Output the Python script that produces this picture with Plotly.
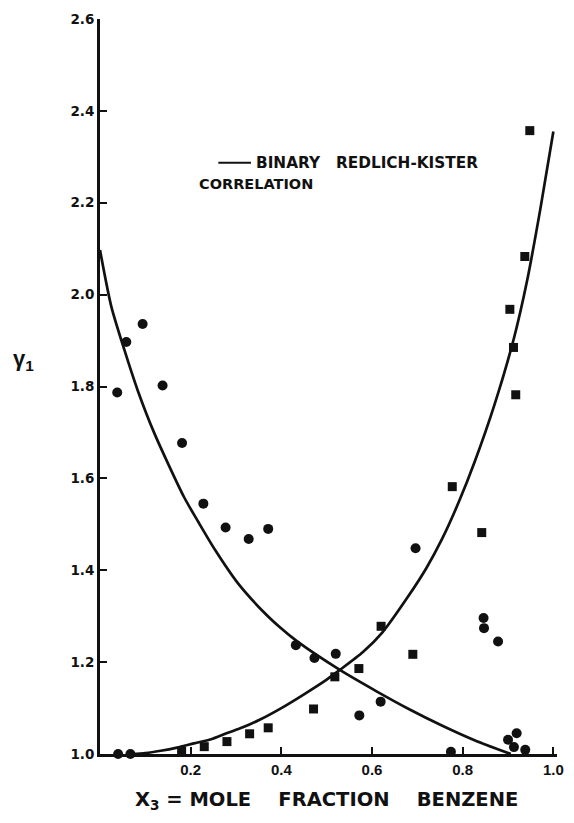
import plotly.graph_objects as go

# Measured activity coefficients (circles: falling branch, squares: rising branch)
circle_x = [0.040, 0.067, 0.038, 0.058, 0.094, 0.138, 0.181, 0.228, 0.277, 0.328,
            0.371, 0.432, 0.473, 0.520, 0.572, 0.619, 0.696, 0.774, 0.846, 0.847,
            0.878, 0.900, 0.919, 0.913, 0.938]
circle_y = [1.000, 1.000, 1.787, 1.897, 1.936, 1.802, 1.677, 1.545, 1.493, 1.468,
            1.490, 1.237, 1.209, 1.218, 1.084, 1.114, 1.448, 1.005, 1.296, 1.274,
            1.245, 1.031, 1.045, 1.015, 1.009]

square_x = [0.180, 0.230, 0.280, 0.330, 0.371, 0.471, 0.518, 0.571, 0.620, 0.690,
            0.777, 0.842, 0.917, 0.912, 0.904, 0.937, 0.948]
square_y = [1.006, 1.016, 1.027, 1.044, 1.057, 1.098, 1.168, 1.186, 1.278, 1.217,
            1.582, 1.482, 1.782, 1.885, 1.968, 2.083, 2.357]

# Binary Redlich-Kister correlation curves
fall_x = [0.000, 0.025, 0.054, 0.083, 0.120, 0.185, 0.217, 0.254, 0.304, 0.362,
          0.400, 0.435, 0.529, 0.609, 0.681, 0.754, 0.826, 0.906]
fall_y = [2.097, 1.974, 1.879, 1.792, 1.698, 1.560, 1.505, 1.444, 1.372, 1.308,
          1.273, 1.245, 1.183, 1.137, 1.098, 1.062, 1.030, 1.000]

rise_x = [0.070, 0.100, 0.134, 0.170, 0.207, 0.245, 0.279, 0.315, 0.351, 0.400,
          0.450, 0.500, 0.529, 0.580, 0.623, 0.681, 0.720, 0.754, 0.792, 0.826,
          0.870, 0.913, 0.942, 0.971, 1.000]
rise_y = [1.000, 1.002, 1.007, 1.014, 1.023, 1.032, 1.045, 1.058, 1.074, 1.100,
          1.130, 1.162, 1.183, 1.222, 1.265, 1.345, 1.405, 1.467, 1.550, 1.635,
          1.760, 1.905, 2.030, 2.185, 2.355]

x_ticks = [0.2, 0.4, 0.6, 0.8, 1.0]
x_tick_text = ["0.2", "0.4", "0.6", "0.8", "1.0"]
y_ticks = [1.0, 1.2, 1.4, 1.6, 1.8, 2.0, 2.2, 2.4, 2.6]
y_tick_text = ["1.0", "1.2", "1.4", "1.6", "1.8", "2.0", "2.2", "2.4", "2.6"]

SANS = "Liberation Sans"
WIDE = "DejaVu Sans"
INK = "#111111"


def gap(n):
    return "&nbsp;" * n


fig = go.Figure()

for cx, cy in ((fall_x, fall_y), (rise_x, rise_y)):
    fig.add_trace(go.Scatter(
        x=cx, y=cy, mode="lines",
        line=dict(color=INK, width=2.7, shape="spline", smoothing=0.7),
        hoverinfo="skip", showlegend=False,
    ))

fig.add_trace(go.Scatter(
    x=circle_x, y=circle_y, mode="markers",
    marker=dict(symbol="circle", size=10, color=INK, line=dict(width=0)),
    cliponaxis=False, showlegend=False,
))
fig.add_trace(go.Scatter(
    x=square_x, y=square_y, mode="markers",
    marker=dict(symbol="square", size=9, color=INK, line=dict(width=0)),
    cliponaxis=False, showlegend=False,
))

# Legend key: short line sample followed by its caption
fig.add_shape(type="line", xref="x", yref="y",
              x0=0.261, x1=0.333, y0=2.287, y1=2.287,
              line=dict(color=INK, width=2))
fig.add_annotation(x=0.339, y=2.287, xref="x", yref="y",
                   text=f"<b>BINARY{gap(3)}REDLICH-KISTER</b>",
                   showarrow=False, xanchor="left", yanchor="middle",
                   font=dict(family=WIDE, size=15.3, color=INK))
fig.add_annotation(x=0.213, y=2.241, xref="x", yref="y",
                   text="<b>CORRELATION</b>",
                   showarrow=False, xanchor="left", yanchor="middle",
                   font=dict(family=WIDE, size=14.5, color=INK))

# Axis titles
fig.add_annotation(x=0.073, y=-0.063, xref="paper", yref="paper",
                   text=f"<b>X<sub>3</sub>&nbsp;=&nbsp;MOLE{gap(4)}FRACTION{gap(4)}BENZENE</b>",
                   showarrow=False, xanchor="left", yanchor="middle",
                   font=dict(family=WIDE, size=19.5, color=INK))
fig.add_annotation(x=-0.168, y=0.536, xref="paper", yref="paper",
                   text="<b>γ<sub>1</sub></b>",
                   showarrow=False, xanchor="center", yanchor="middle",
                   font=dict(family=SANS, size=22, color=INK))

axis_common = dict(
    showgrid=False, zeroline=False, showline=True,
    linecolor=INK, linewidth=3,
    ticks="inside", ticklen=7, tickwidth=2, tickcolor=INK,
)

fig.update_xaxes(
    range=[0, 1.008], tickvals=x_ticks, ticktext=[f"<b>{t}</b>" for t in x_tick_text],
    tickfont=dict(family=SANS, size=15, color=INK),
    **axis_common,
)
fig.update_yaxes(
    range=[1.0, 2.6], tickvals=y_ticks, ticktext=[f"<b>{t}</b>" for t in y_tick_text],
    tickfont=dict(family=WIDE, size=13.5, color=INK),
    **axis_common,
)

fig.update_layout(
    width=574, height=823,
    margin=dict(l=100, r=10, t=19, b=69),
    paper_bgcolor="white", plot_bgcolor="white",
    showlegend=False,
)

fig.write_html("out.html")
